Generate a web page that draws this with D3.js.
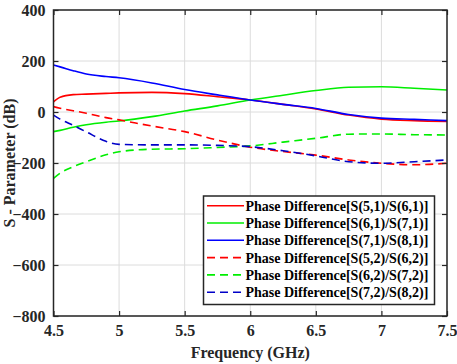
<!DOCTYPE html>
<html><head><meta charset="utf-8">
<script src="https://cdn.jsdelivr.net/npm/d3@7"></script>
<style>body{margin:0;background:#fff}svg{display:block}</style>
</head><body>
<script>
const freq = [4.5, 4.55, 4.65, 4.75, 4.9, 5.0, 5.25, 5.5, 5.75, 6.0, 6.25, 6.5, 6.75, 7.0, 7.25, 7.5];
const s51_61 = [40, 58, 68, 70, 73, 75, 77, 72, 60, 47, 30, 12, -12, -28, -34, -37];
const s61_71 = [-77, -72, -60, -50, -40, -35, -18, 4, 24, 47, 66, 84, 97, 99, 93, 86];
const s71_81 = [184, 177, 162, 149, 139, 134, 114, 88, 67, 47, 30, 14, -10, -24, -29, -34];
const s52_62 = [21, 15, 5, -5, -22, -31, -55, -77, -110, -138, -155, -169, -188, -201, -207, -201];
const s62_72 = [-260, -240, -215, -195, -168, -156, -146, -144, -139, -133, -118, -103, -87, -86, -89, -90];
const s72_82 = [-12, -28, -52, -78, -115, -127, -129, -129, -131, -136, -152, -172, -195, -201, -195, -188];
const seriesNames = ["Phase Difference[S(5,1)/S(6,1)]","Phase Difference[S(6,1)/S(7,1)]","Phase Difference[S(7,1)/S(8,1)]","Phase Difference[S(5,2)/S(6,2)]","Phase Difference[S(6,2)/S(7,2)]","Phase Difference[S(7,2)/S(8,2)]"];
const seriesColors = ["#ff0000","#00ee00","#0000ff","#ff0000","#00ee00","#0000c8"];
const seriesDashed = [false,false,false,true,true,true];
const seriesValues = [s51_61, s61_71, s71_81, s52_62, s62_72, s72_82];
const xTicks = [4.5, 5, 5.5, 6, 6.5, 7, 7.5];
const yTicks = [-800, -600, -400, -200, 0, 200, 400];

const W = 457, H = 364;
const m = {l:53.5, t:10, r:W-447, b:H-316};
const svg = d3.select("body").append("svg").attr("width", W).attr("height", H);
const x = d3.scaleLinear().domain([4.5, 7.5]).range([m.l, W - m.r]);
const y = d3.scaleLinear().domain([-800, 400]).range([H - m.b, m.t]);
const FONT = "Liberation Serif";
const setFont = (sel, size) => sel.attr("font-family", FONT).style("font-family", `"${FONT}"`)
  .style("font-weight", "bold").style("font-size", size + "px");

// grid
svg.append("g").selectAll("line.gx").data(xTicks).join("line")
  .attr("x1", d => x(d)).attr("x2", d => x(d)).attr("y1", y(-800)).attr("y2", y(400))
  .attr("stroke", "#dcdcdc").attr("stroke-width", 1);
svg.append("g").selectAll("line.gy").data(yTicks).join("line")
  .attr("y1", d => y(d)).attr("y2", d => y(d)).attr("x1", x(4.5)).attr("x2", x(7.5))
  .attr("stroke", "#dcdcdc").attr("stroke-width", 1);

// lines
const line = d3.line().curve(d3.curveMonotoneX);
seriesValues.forEach((vals, i) => {
  svg.append("path")
    .attr("d", line(freq.map((f, j) => [x(f), y(vals[j])])))
    .attr("fill", "none").attr("stroke", seriesColors[i]).attr("stroke-width", 1.6)
    .attr("stroke-dasharray", seriesDashed[i] ? "8,5" : null);
});

// axes
const axStyle = g => {
  g.attr("font-family", FONT);
  g.select(".domain").remove();
  g.selectAll(".tick line").attr("stroke", "#262626").attr("stroke-width", 1.2);
  g.selectAll(".tick text").call(setFont, 16).attr("fill", "#262626");
};
svg.append("g").attr("transform", `translate(0,${y(-800)})`)
  .call(d3.axisBottom(x).tickValues(xTicks).tickFormat(d3.format("")).tickSizeInner(-5).tickSizeOuter(0).tickPadding(9))
  .call(axStyle);
svg.append("g").attr("transform", `translate(0,${y(400)})`)
  .call(d3.axisTop(x).tickValues(xTicks).tickFormat("").tickSizeInner(-5).tickSizeOuter(0))
  .call(axStyle);
svg.append("g").attr("transform", `translate(${x(4.5)},0)`)
  .call(d3.axisLeft(y).tickValues(yTicks).tickFormat(d3.format("")).tickSizeInner(-5).tickSizeOuter(0).tickPadding(8))
  .call(axStyle);
svg.append("g").attr("transform", `translate(${x(7.5)},0)`)
  .call(d3.axisRight(y).tickValues(yTicks).tickFormat("").tickSizeInner(-5).tickSizeOuter(0))
  .call(axStyle);
svg.append("rect").attr("x", x(4.5)).attr("y", y(400)).attr("width", x(7.5) - x(4.5)).attr("height", y(-800) - y(400))
  .attr("fill", "none").attr("stroke", "#262626").attr("stroke-width", 1.5);

// axis labels
svg.append("text").attr("x", (x(4.5) + x(7.5)) / 2).attr("y", 358).attr("text-anchor", "middle")
  .call(setFont, 16).attr("fill", "#262626")
  .text("Frequency (GHz)");
svg.append("text").attr("transform", `translate(15,${(y(400) + y(-800)) / 2}) rotate(-90)`).attr("text-anchor", "middle")
  .call(setFont, 16).attr("fill", "#262626")
  .text("S - Parameter (dB)");

// legend
const lg = svg.append("g");
lg.append("rect").attr("x", 203.5).attr("y", 196).attr("width", 231).attr("height", 108.5)
  .attr("fill", "#fff").attr("stroke", "#262626").attr("stroke-width", 1.5);
seriesNames.forEach((n, i) => {
  const yy = 205.7 + i * 17.3;
  lg.append("line").attr("x1", 207).attr("x2", 244).attr("y1", yy).attr("y2", yy)
    .attr("stroke", seriesColors[i]).attr("stroke-width", 1.6)
    .attr("stroke-dasharray", seriesDashed[i] ? "8,5" : null);
  lg.append("text").attr("x", 245.5).attr("y", yy).attr("dy", "0.35em")
    .call(setFont, 14).attr("fill", "#000")
    .text(n);
});
</script>
</body></html>
